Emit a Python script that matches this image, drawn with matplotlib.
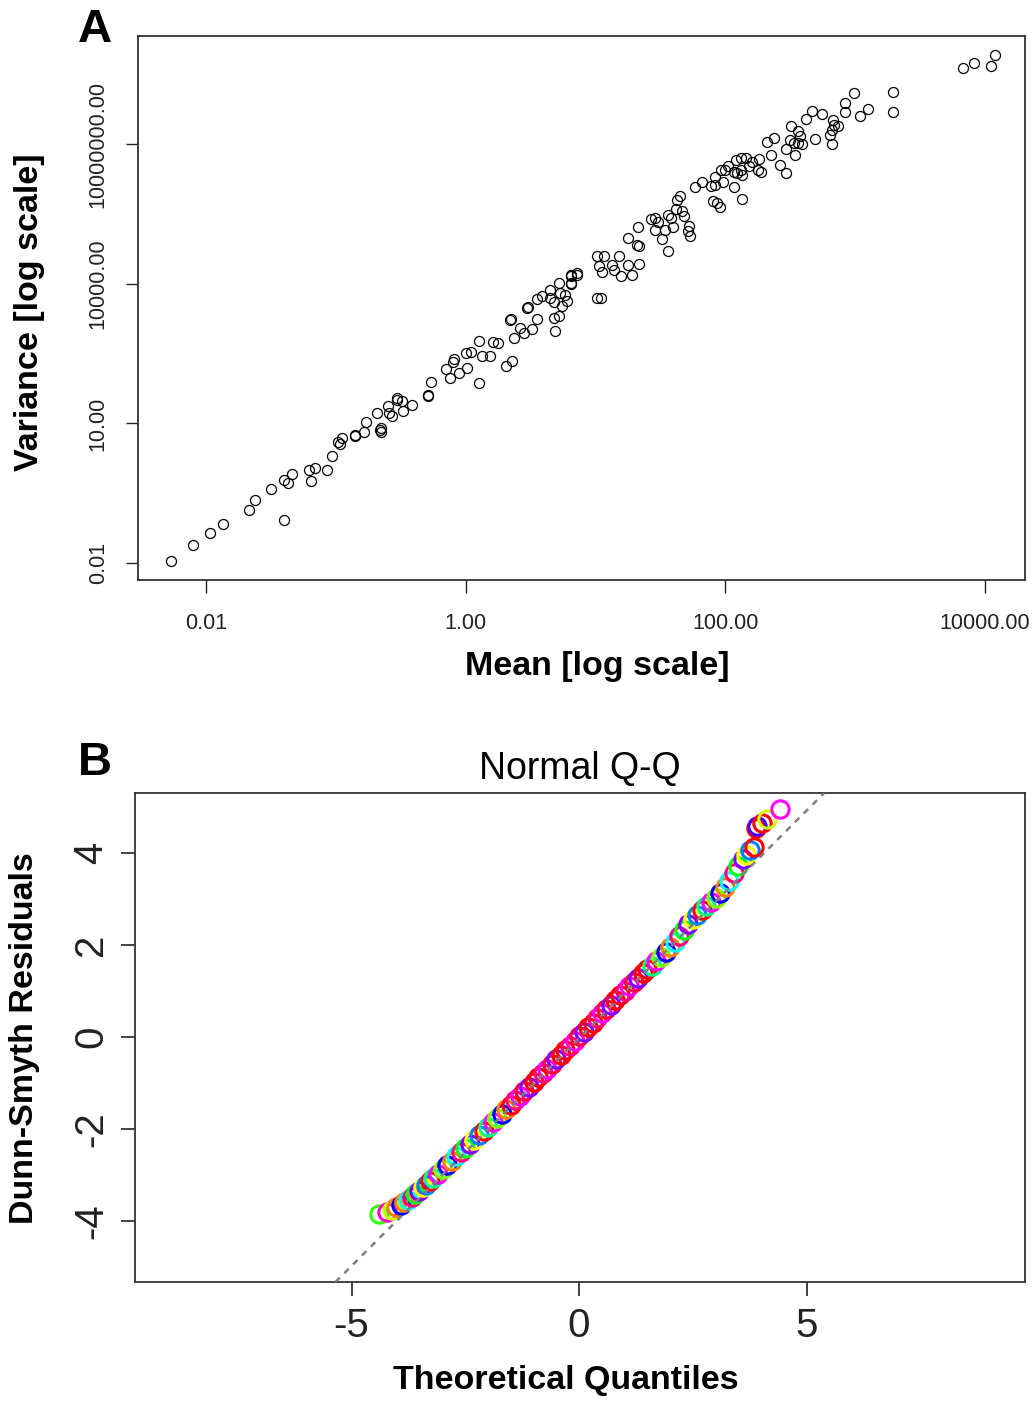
import matplotlib
matplotlib.use('Agg')
import matplotlib.pyplot as plt
from matplotlib.ticker import FixedLocator, NullLocator
import numpy as np

plt.rcParams['font.family'] = ['Liberation Sans', 'DejaVu Sans']
plt.rcParams['axes.unicode_minus'] = False

# Panel A: mean / variance per species (log10 values)
log_mean = [-2.27, -2.10, -1.97, -1.87, -1.67, -1.62, -1.40, -1.50, -1.40, -1.37,
            -1.34, -1.21, -1.16, -1.19, -1.07, -1.03, -0.98, -0.97, -0.95, -0.85,
            -0.85, -0.78, -0.77, -0.68, -0.66, -0.65, -0.65, -0.60, -0.59, -0.57,
            -0.53, -0.53, -0.49, -0.48, -0.41, -0.29, -0.29, -0.27, -0.15, -0.12,
            -0.10, -0.09, -0.05, 0.00, 0.01, 0.04, 0.10, 0.10, 0.13, 0.19,
            0.21, 0.25, 0.31, 0.36, 0.37, 0.34, 0.35, 0.42, 0.45, 0.48,
            0.47, 0.51, 0.55, 0.55, 0.59, 0.65, 0.68, 0.69, 0.68, 0.72,
            0.74, 0.78, 0.77, 0.73, 0.65, 0.72, 0.81, 0.86, 0.81,
            3.83, 3.92, 4.05, 4.08, 2.99, 3.29, 3.29, 2.92, 2.92, 3.10,
            3.04, 2.67, 2.75, 2.62, 2.83, 2.84, 2.87, 2.82, 2.81, 2.82,
            2.69, 2.51, 2.56, 2.58, 2.50, 2.53, 2.59, 2.56, 2.47, 2.54,
            2.32, 2.38, 2.35, 2.42, 2.47, 2.26, 2.25, 2.28, 2.18, 2.21,
            2.16, 2.12, 2.08, 2.12, 2.13, 2.09, 2.07, 2.02, 2.00, 1.97,
            1.92, 1.98, 1.92, 1.89, 1.82, 1.77, 2.07, 2.13, 1.91, 1.94,
            1.96, 1.65, 1.63, 1.62, 1.67, 1.68, 1.56, 1.58, 1.43, 1.46,
            1.48, 1.46, 1.54, 1.51, 1.60, 1.72, 1.71, 1.73, 1.56, 1.33,
            1.25, 1.32, 1.34, 1.01, 1.07, 1.18, 1.03, 1.13, 1.14, 1.05,
            1.25, 1.20, 1.28, 1.34, 1.01, 1.04, 0.81, 0.86, 0.81]
log_var = [-1.96, -1.61, -1.36, -1.16, -0.86, -0.65, -1.08, -0.41, -0.22, -0.27,
           -0.09, 0.01, 0.04, -0.24, 0.01, 0.30, 0.61, 0.56, 0.69, 0.72,
           0.75, 0.82, 1.03, 1.23, 0.86, 0.81, 0.90, 1.38, 1.22, 1.15,
           1.50, 1.54, 1.48, 1.27, 1.39, 1.58, 1.61, 1.89, 2.17, 1.98,
           2.32, 2.39, 2.09, 2.52, 2.19, 2.54, 2.77, 1.86, 2.46, 2.46,
           2.76, 2.72, 2.24, 2.34, 2.84, 3.22, 3.25, 3.05, 2.95, 3.51,
           3.49, 3.02, 3.24, 3.68, 3.74, 3.69, 3.62, 2.99, 3.27, 3.30,
           3.53, 3.64, 3.76, 3.81, 3.87, 4.01, 4.19, 4.24, 4.02,
           8.65, 8.74, 8.69, 8.92, 8.11, 8.13, 7.70, 7.88, 7.69, 7.76,
           7.60, 7.72, 7.65, 7.54, 7.52, 7.42, 7.40, 7.31, 7.20, 7.01,
           7.11, 7.40, 7.29, 7.17, 7.10, 7.02, 7.01, 7.02, 6.90, 6.77,
           7.06, 7.13, 6.77, 6.56, 6.38, 6.68, 6.45, 6.41, 6.54, 6.63,
           6.70, 6.70, 6.66, 6.45, 6.34, 6.38, 6.41, 6.54, 6.45, 6.44,
           6.30, 6.19, 6.13, 6.11, 6.19, 6.09, 6.09, 5.83, 5.78, 5.75,
           5.66, 5.88, 5.80, 5.60, 5.56, 5.45, 5.49, 5.42, 5.40, 5.42,
           5.33, 5.15, 5.15, 4.97, 5.22, 5.24, 5.13, 5.02, 4.70, 5.22,
           4.99, 4.84, 4.81, 4.59, 4.59, 4.59, 4.38, 4.41, 4.30, 4.25,
           4.41, 4.16, 4.19, 4.43, 3.69, 3.70, 4.16, 4.19, 4.00]

a_xticks = [0.01, 1, 100, 10000]
a_xticklabels = ['0.01', '1.00', '100.00', '10000.00']
a_yticks = [0.01, 10, 10000, 1e7]
a_yticklabels = ['0.01', '10.00', '10000.00', '10000000.00']

# Panel B: Dunn-Smyth residuals vs theoretical normal quantiles
qq_theo = [-4.40, -4.22, -4.12, -4.02, -3.92, -3.84, -3.76, -3.68, -3.60, -3.52,
           -3.44, -3.36, -3.28, -3.20, -3.10, -3.00, -2.90, -2.80, -2.70, -2.60,
           -2.50, -2.40, -2.30, -2.20, -2.10, -2.00, -1.90, -1.80, -1.70, -1.60,
           -1.50, -1.40, -1.30, -1.20, -1.10, -1.00, -0.90, -0.80, -0.70, -0.60,
           -0.50, -0.40, -0.30, -0.20, -0.10, 0.00, 0.10, 0.20, 0.30, 0.40,
           0.50, 0.60, 0.70, 0.80, 0.90, 1.00, 1.10, 1.20, 1.30, 1.40,
           1.50, 1.60, 1.70, 1.80, 1.90, 2.00, 2.10, 2.20, 2.30, 2.40,
           2.50, 2.60, 2.70, 2.80, 2.90, 3.00, 3.10, 3.20, 3.30, 3.40,
           3.50, 3.60, 3.68, 3.76, 3.84, 3.88, 3.92, 4.02, 4.12, 4.42]
qq_resid = [-3.85, -3.80, -3.76, -3.70, -3.66, -3.60, -3.55, -3.48, -3.42, -3.35,
            -3.27, -3.21, -3.14, -3.06, -2.97, -2.88, -2.78, -2.69, -2.60, -2.51,
            -2.42, -2.33, -2.24, -2.14, -2.05, -1.95, -1.86, -1.76, -1.67, -1.57,
            -1.47, -1.38, -1.28, -1.18, -1.08, -0.98, -0.88, -0.79, -0.69, -0.59,
            -0.49, -0.39, -0.29, -0.19, -0.09, 0.01, 0.11, 0.21, 0.31, 0.41,
            0.51, 0.60, 0.70, 0.80, 0.90, 1.00, 1.10, 1.20, 1.29, 1.38,
            1.47, 1.55, 1.64, 1.73, 1.84, 1.95, 2.07, 2.20, 2.33, 2.45,
            2.56, 2.66, 2.75, 2.84, 2.93, 3.02, 3.12, 3.25, 3.40, 3.56,
            3.72, 3.86, 3.96, 4.06, 4.12, 4.55, 4.58, 4.65, 4.73, 4.95]
qq_line_intercept = -0.03
qq_line_slope = 0.99

rainbow = ['#FF0000', '#FF8000', '#FFFF00', '#80FF00', '#00FF00', '#00FF80',
           '#00FFFF', '#0080FF', '#0000FF', '#8000FF', '#FF00FF', '#FF0080']
warm = ['#FF0000', '#FF0080', '#FF00FF', '#FF0040', '#8000FF', '#FF0000']
# colours of the outermost rings, as seen in the picture
tail_cols = {0: '#33FF00', 1: '#FF00CC', 2: '#CCFF00', 3: '#FF8000',
             85: '#FF0000', 86: '#4000FF', 87: '#FF0000', 88: '#CCFF00', 89: '#FF00FF'}

fig = plt.figure(figsize=(10.35, 14.01), dpi=100)

# ---- panel A
axA = fig.add_axes([0.1333, 0.586, 0.857, 0.3883])
axA.plot(10 ** np.array(log_mean), 10 ** np.array(log_var), 'o', ms=7.2,
         mfc='none', mec='black', mew=0.9)
axA.set_xscale('log')
axA.set_yscale('log')
axA.set_xlim(10 ** -2.524, 10 ** 4.31)
axA.set_ylim(10 ** -2.366, 10 ** 9.33)
axA.xaxis.set_major_locator(FixedLocator(a_xticks))
axA.yaxis.set_major_locator(FixedLocator(a_yticks))
axA.xaxis.set_minor_locator(NullLocator())
axA.yaxis.set_minor_locator(NullLocator())
axA.set_xticklabels(a_xticklabels)
axA.set_yticklabels(a_yticklabels, rotation=90, va='center')
axA.tick_params(length=9, width=1, labelsize=15.5, colors='#222222')
axA.tick_params(axis='x', pad=15)
axA.tick_params(axis='y', pad=12)
for s in axA.spines.values():
    s.set_linewidth(1.3)
    s.set_color('#333333')

fig.text(597 / 1035, 1 - 667 / 1401, 'Mean [log scale]', ha='center', va='center',
         fontsize=24.5, fontweight='bold')
fig.text(30 / 1035, 1 - 312 / 1401, 'Variance [log scale]', ha='center', va='center',
         rotation=90, fontsize=24.5, fontweight='bold')
fig.text(95 / 1035, 1 - 30 / 1401, 'A', ha='center', va='center',
         fontsize=34, fontweight='bold')

# ---- panel B
axB = fig.add_axes([0.1304, 0.0849, 0.8599, 0.3490])
cols = []
for i, t in enumerate(qq_theo):
    if i in tail_cols:
        cols.append(tail_cols[i])
    elif abs(t) < 1.6:
        cols.append(warm[i % len(warm)])
    else:
        cols.append(rainbow[(i * 5) % len(rainbow)])
for t, r, c in zip(qq_theo, qq_resid, cols):
    axB.plot(t, r, 'o', ms=12.5, mfc='none', mec=c, mew=2.2, zorder=2)
axB.axline((0, qq_line_intercept), slope=qq_line_slope, color='#7f7f7f',
           lw=1.8, dashes=(2.5, 2.5), zorder=3)
axB.set_xlim(-9.76, 9.8)
axB.set_ylim(-5.33, 5.3)
axB.set_xticks([-5, 0, 5])
axB.set_yticks([-4, -2, 0, 2, 4])
axB.set_yticklabels(['-4', '-2', '0', '2', '4'], rotation=90, va='center')
axB.tick_params(length=10, width=1.2, labelsize=29, pad=8, colors='#222222')
for s in axB.spines.values():
    s.set_linewidth(1.3)
    s.set_color('#333333')
axB.set_title('Normal Q-Q', fontsize=27, pad=10)

fig.text(566 / 1035, 1 - 1381 / 1401, 'Theoretical Quantiles', ha='center', va='center',
         fontsize=24.5, fontweight='bold')
fig.text(25 / 1035, 1 - 1038 / 1401, 'Dunn-Smyth Residuals', ha='center', va='center',
         rotation=90, fontsize=24.5, fontweight='bold')
fig.text(95 / 1035, 1 - 763 / 1401, 'B', ha='center', va='center',
         fontsize=34, fontweight='bold')

fig.savefig('out.png', dpi=100)
